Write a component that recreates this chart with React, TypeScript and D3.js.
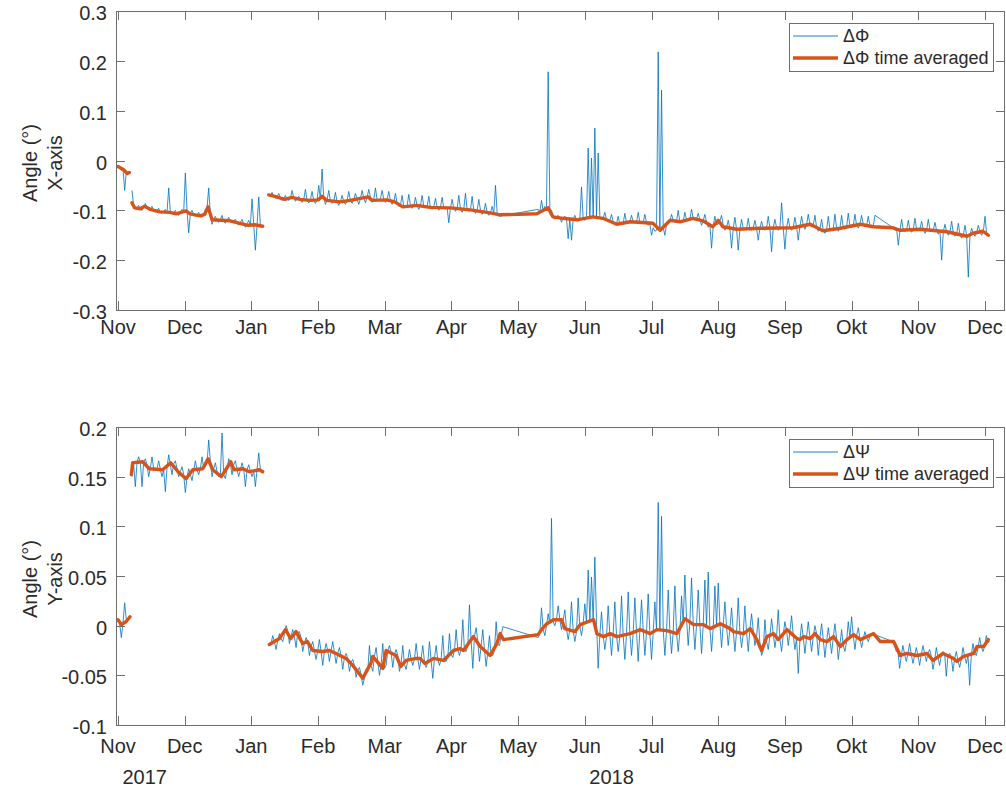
import { useEffect, useRef } from 'react';
import * as d3 from 'd3';

type Pair = [number, number];

// x values are months after 1 Nov 2017 (Nov 2017 = 0 ... Dec 2018 = 13)
const monthLabels = ['Nov', 'Dec', 'Jan', 'Feb', 'Mar', 'Apr', 'May', 'Jun', 'Jul', 'Aug', 'Sep', 'Okt', 'Nov', 'Dec'];
const yearLabels = ['2017', '2018'];
const yearLabelMonths = [0.4, 7.4];

const phiTicks = [-0.3, -0.2, -0.1, 0, 0.1, 0.2, 0.3];
const psiTicks = [-0.1, -0.05, 0, 0.05, 0.1, 0.15, 0.2];

// raw samples are spaced evenly inside each logging block
const SAMPLE_STEP = 0.025;

// ΔΦ raw
const phiRawStarts = [0, 0.21, 2.26, 6.3, 11.6];
const phiRaw1 = [-0.009, -0.014, -0.02, -0.018, -0.06, -0.022, -0.024];
const phiRaw2 = [
  -0.06, -0.092, -0.097, -0.095, -0.09, -0.098, -0.1, -0.093, -0.086, -0.095,
  -0.099, -0.097, -0.092, -0.101, -0.104, -0.1, -0.096, -0.104, -0.106, -0.102,
  -0.098, -0.105, -0.055, -0.103, -0.107, -0.104, -0.1, -0.108, -0.11, -0.105,
  -0.098, -0.104, -0.025, -0.1, -0.145, -0.106, -0.1, -0.108, -0.112, -0.109,
  -0.104, -0.111, -0.114, -0.108, -0.098, -0.095, -0.055, -0.11, -0.128, -0.118,
  -0.112, -0.121, -0.124, -0.119, -0.11, -0.122, -0.126, -0.12, -0.114, -0.123,
  -0.124, -0.121, -0.118, -0.126, -0.13, -0.124, -0.118, -0.128, -0.134, -0.127,
  -0.12, -0.13, -0.077, -0.128, -0.18, -0.13, -0.073, -0.131, -0.132,
];
const phiRaw3 = [
  -0.068, -0.071, -0.064, -0.072, -0.075, -0.073, -0.066, -0.075, -0.08, -0.076,
  -0.07, -0.078, -0.08, -0.076, -0.06, -0.075, -0.082, -0.077, -0.072, -0.078,
  -0.084, -0.079, -0.058, -0.08, -0.085, -0.079, -0.062, -0.081, -0.086, -0.079,
  -0.05, -0.078, -0.017, -0.074, -0.088, -0.08, -0.06, -0.081, -0.086, -0.082,
  -0.064, -0.083, -0.09, -0.083, -0.07, -0.082, -0.088, -0.081, -0.062, -0.08,
  -0.086, -0.079, -0.066, -0.078, -0.088, -0.077, -0.06, -0.075, -0.085, -0.074,
  -0.058, -0.074, -0.084, -0.079, -0.055, -0.078, -0.08, -0.077, -0.06, -0.078,
  -0.084, -0.079, -0.062, -0.081, -0.088, -0.083, -0.066, -0.086, -0.092, -0.09,
  -0.07, -0.092, -0.094, -0.091, -0.068, -0.09, -0.096, -0.091, -0.074, -0.09,
  -0.098, -0.091, -0.07, -0.092, -0.095, -0.093, -0.072, -0.094, -0.098, -0.093,
  -0.076, -0.094, -0.1, -0.094, -0.074, -0.095, -0.098, -0.094, -0.125, -0.095,
  -0.078, -0.096, -0.102, -0.096, -0.07, -0.097, -0.104, -0.097, -0.066, -0.098,
  -0.102, -0.099, -0.072, -0.1, -0.106, -0.101, -0.078, -0.1, -0.108, -0.102,
  -0.086, -0.104, -0.11, -0.105, -0.092, -0.106, -0.05, -0.105, -0.112,
];
const phiRaw4 = [
  -0.098, -0.104, -0.08, -0.1, -0.092, -0.097, 0.178, -0.096, -0.1, -0.11,
  -0.118, -0.113, -0.11, -0.115, -0.124, -0.116, -0.112, -0.117, -0.157, -0.118,
  -0.16, -0.118, -0.11, -0.119, -0.122, -0.118, -0.053, -0.117, -0.12, -0.116,
  0.025, -0.115, 0.005, -0.114, 0.065, -0.113, 0.015, -0.114, -0.118, -0.116,
  -0.104, -0.118, -0.122, -0.121, -0.108, -0.124, -0.13, -0.127, -0.112, -0.128,
  -0.128, -0.126, -0.106, -0.125, -0.126, -0.123, -0.11, -0.123, -0.124, -0.124,
  -0.104, -0.124, -0.126, -0.125, -0.108, -0.125, -0.13, -0.127, -0.15, -0.135,
  -0.142, -0.14, 0.218, -0.138, 0.141, -0.135, -0.15, -0.128, -0.12, -0.121,
  -0.108, -0.12, -0.124, -0.122, -0.1, -0.123, -0.12, -0.122, -0.104, -0.12,
  -0.118, -0.118, -0.098, -0.116, -0.12, -0.117, -0.106, -0.119, -0.13, -0.121,
  -0.108, -0.124, -0.134, -0.128, -0.176, -0.132, -0.112, -0.128, -0.128, -0.121,
  -0.11, -0.13, -0.14, -0.134, -0.12, -0.136, -0.176, -0.137, -0.114, -0.138,
  -0.18, -0.138, -0.118, -0.137, -0.138, -0.137, -0.116, -0.137, -0.14, -0.136,
  -0.12, -0.136, -0.16, -0.136, -0.122, -0.136, -0.14, -0.136, -0.112, -0.136,
  -0.183, -0.135, -0.118, -0.135, -0.14, -0.135, -0.085, -0.135, -0.178, -0.135,
  -0.116, -0.135, -0.14, -0.134, -0.114, -0.133, -0.16, -0.132, -0.112, -0.13,
  -0.138, -0.129, -0.108, -0.128, -0.134, -0.13, -0.11, -0.134, -0.142, -0.137,
  -0.118, -0.14, -0.146, -0.14, -0.112, -0.138, -0.14, -0.137, -0.108, -0.136,
  -0.142, -0.136, -0.11, -0.135, -0.138, -0.133, -0.106, -0.132, -0.134, -0.131,
  -0.108, -0.13, -0.136, -0.128, -0.11, -0.129, -0.132, -0.13, -0.112, -0.131,
  -0.13, -0.132, -0.11,
];
const phiRaw5 = [
  -0.133, -0.136, -0.14, -0.138, -0.17, -0.14, -0.118, -0.14, -0.142, -0.139,
  -0.12, -0.139, -0.144, -0.138, -0.116, -0.138, -0.14, -0.138, -0.122, -0.138,
  -0.146, -0.139, -0.118, -0.14, -0.14, -0.14, -0.124, -0.141, -0.148, -0.142,
  -0.2, -0.143, -0.128, -0.143, -0.15, -0.144, -0.122, -0.146, -0.152, -0.148,
  -0.126, -0.149, -0.156, -0.15, -0.13, -0.151, -0.234, -0.15, -0.136, -0.147,
  -0.152, -0.145, -0.13, -0.143, -0.15, -0.143, -0.112, -0.147, -0.148,
];
const phiRawLines = [[0], [1], [2, 3, 4]];

// ΔΦ time averaged
const phiAvg1: Pair[] = [[0, -0.012], [0.08, -0.018], [0.14, -0.026], [0.17, -0.024]];
const phiAvg2: Pair[] = [
  [0.21, -0.085], [0.25, -0.095], [0.33, -0.097], [0.4, -0.092], [0.48, -0.098], [0.63, -0.103],
  [0.78, -0.104], [0.87, -0.107], [1.02, -0.101], [1.08, -0.107], [1.23, -0.111], [1.3, -0.108],
  [1.35, -0.093], [1.41, -0.119], [1.53, -0.12], [1.68, -0.121], [1.83, -0.126], [1.95, -0.13],
  [2.05, -0.129], [2.17, -0.132],
];
const phiAvg3: Pair[] = [
  [2.26, -0.069], [2.35, -0.072], [2.5, -0.078], [2.61, -0.074], [2.73, -0.078], [2.88, -0.08],
  [3.0, -0.079], [3.06, -0.072], [3.13, -0.08], [3.33, -0.083], [3.48, -0.08], [3.75, -0.073],
  [3.81, -0.08], [4.03, -0.079], [4.15, -0.083], [4.27, -0.093], [4.48, -0.09], [4.68, -0.094],
  [4.98, -0.095], [5.28, -0.099], [5.58, -0.105], [5.73, -0.109], [6.28, -0.107], [6.45, -0.095],
  [6.52, -0.113], [6.67, -0.116], [6.88, -0.119], [7.12, -0.113], [7.27, -0.116], [7.48, -0.128],
  [7.68, -0.123], [8.02, -0.126], [8.13, -0.14], [8.28, -0.12], [8.43, -0.123], [8.62, -0.116],
  [8.77, -0.121], [8.92, -0.133], [9.0, -0.12], [9.07, -0.133], [9.28, -0.138], [9.63, -0.136],
  [10.12, -0.135], [10.38, -0.128], [10.57, -0.141], [10.83, -0.136], [11.13, -0.128], [11.32, -0.133],
  [11.62, -0.135], [11.73, -0.14], [12.03, -0.138], [12.43, -0.143], [12.73, -0.152], [12.82, -0.146],
  [12.97, -0.142], [13.05, -0.15],
];

// ΔΨ raw
const psiRawStarts = [0, 0.21, 2.27, 6.3, 11.62];
const psiRaw1 = [0.004, 0.002, -0.012, 0.003, 0.023, 0.006, 0.008];
const psiRaw2 = [
  0.15, 0.162, 0.14, 0.164, 0.17, 0.165, 0.14, 0.165, 0.168, 0.162,
  0.15, 0.159, 0.17, 0.158, 0.156, 0.158, 0.166, 0.157, 0.15, 0.157,
  0.135, 0.159, 0.172, 0.162, 0.152, 0.163, 0.166, 0.158, 0.15, 0.155,
  0.16, 0.152, 0.134, 0.149, 0.158, 0.152, 0.146, 0.156, 0.166, 0.157,
  0.152, 0.158, 0.17, 0.158, 0.16, 0.163, 0.187, 0.166, 0.15, 0.158,
  0.164, 0.155, 0.15, 0.152, 0.194, 0.152, 0.148, 0.158, 0.168, 0.163,
  0.152, 0.162, 0.166, 0.157, 0.15, 0.157, 0.164, 0.158, 0.14, 0.157,
  0.162, 0.155, 0.15, 0.156, 0.14, 0.157, 0.174, 0.157, 0.154,
];
const psiRaw3 = [
  -0.02, -0.018, -0.01, -0.016, -0.024, -0.015, -0.008, -0.013, -0.016, -0.009,
  0.0, -0.005, -0.018, -0.011, -0.004, -0.011, -0.022, -0.007, -0.006, -0.012,
  -0.026, -0.018, -0.012, -0.016, -0.03, -0.021, -0.016, -0.025, -0.034, -0.025,
  -0.014, -0.026, -0.04, -0.026, -0.018, -0.025, -0.036, -0.025, -0.016, -0.027,
  -0.038, -0.028, -0.022, -0.03, -0.044, -0.032, -0.028, -0.033, -0.046, -0.037,
  -0.034, -0.04, -0.052, -0.045, -0.042, -0.049, -0.06, -0.053, -0.044, -0.046,
  -0.02, -0.04, -0.046, -0.031, -0.022, -0.036, -0.05, -0.04, -0.018, -0.043,
  -0.04, -0.025, -0.02, -0.027, -0.042, -0.029, -0.024, -0.03, -0.046, -0.038,
  -0.02, -0.039, -0.044, -0.035, -0.024, -0.034, -0.04, -0.034, -0.018, -0.033,
  -0.044, -0.033, -0.02, -0.036, -0.042, -0.037, -0.016, -0.035, -0.053, -0.033,
  -0.02, -0.034, -0.04, -0.034, -0.01, -0.035, -0.036, -0.032, -0.008, -0.029,
  -0.032, -0.025, -0.004, -0.024, -0.03, -0.023, 0.006, -0.025, -0.026, -0.02,
  0.021, -0.015, -0.043, -0.011, -0.002, -0.016, -0.036, -0.02, -0.004, -0.024,
  -0.041, -0.027, -0.01, -0.03, -0.03, -0.025, 0.004, -0.019, -0.02, -0.01,
  -0.001,
];
const psiRaw4 = [
  -0.012, -0.008, 0.018, -0.004, -0.01, 0.0, 0.012, 0.002, 0.108, 0.004,
  0.0, 0.006, 0.02, 0.006, -0.004, 0.005, 0.016, -0.003, -0.014, -0.004,
  0.024, -0.005, -0.016, -0.006, 0.028, -0.001, -0.01, 0.002, 0.022, 0.003,
  0.056, 0.004, 0.049, 0.005, 0.069, 0.004, -0.043, -0.009, 0.014, -0.01,
  -0.024, -0.011, 0.02, -0.009, -0.03, -0.008, 0.024, -0.01, -0.026, -0.011,
  0.03, -0.01, -0.034, -0.009, 0.034, -0.008, -0.03, -0.007, 0.028, -0.006,
  -0.036, -0.005, 0.026, -0.004, -0.03, -0.006, 0.032, -0.008, -0.034, -0.007,
  0.024, -0.005, 0.124, -0.004, 0.11, -0.004, -0.03, -0.005, 0.036, -0.005,
  -0.028, -0.006, 0.04, -0.007, -0.026, -0.006, 0.03, 0.002, 0.051, 0.007,
  -0.02, 0.004, 0.048, 0.002, -0.024, 0.001, 0.036, 0.001, -0.028, 0.001,
  0.046, 0.0, 0.054, -0.002, -0.026, -0.002, 0.04, 0.0, 0.043, 0.002,
  -0.022, 0.001, 0.024, -0.001, -0.02, -0.003, 0.018, -0.005, -0.026, -0.006,
  0.028, -0.007, -0.022, -0.008, 0.02, -0.007, -0.026, -0.004, 0.012, -0.005,
  -0.02, -0.011, 0.008, -0.018, -0.03, -0.025, 0.006, -0.016, -0.024, -0.01,
  0.007, -0.008, -0.022, -0.011, 0.016, -0.014, -0.026, -0.009, 0.004, -0.005,
  -0.02, -0.006, 0.01, -0.01, -0.024, -0.013, -0.048, -0.014, 0.002, -0.012,
  -0.028, -0.011, 0.004, -0.012, -0.026, -0.011, 0.0, -0.008, -0.03, -0.012,
  0.002, -0.014, -0.032, -0.016, -0.002, -0.015, -0.028, -0.012, 0.002, -0.013,
  -0.034, -0.019, -0.004, -0.02, -0.026, -0.016, 0.004, -0.012, 0.009, -0.01,
  -0.024, -0.01, -0.002, -0.013, -0.022, -0.013, -0.006, -0.012, -0.016, -0.01,
  -0.008,
];
const psiRaw5 = [
  -0.016, -0.02, -0.026, -0.026, -0.043, -0.03, -0.02, -0.029, -0.036, -0.028,
  -0.018, -0.029, -0.038, -0.03, -0.022, -0.03, -0.04, -0.029, -0.02, -0.028,
  -0.036, -0.028, -0.024, -0.031, -0.044, -0.035, -0.022, -0.032, -0.04, -0.029,
  -0.026, -0.028, -0.051, -0.03, -0.028, -0.032, -0.046, -0.033, -0.026, -0.035,
  -0.042, -0.034, -0.022, -0.031, -0.038, -0.03, -0.06, -0.029, -0.018, -0.028,
  -0.03, -0.023, -0.012, -0.021, -0.026, -0.021, -0.01, -0.017, -0.016,
];
const psiRawLines = [[0], [1], [2, 3, 4]];

// ΔΨ time averaged
const psiAvg1: Pair[] = [[0, 0.006], [0.05, 0.001], [0.12, 0.004], [0.18, 0.009]];
const psiAvg2: Pair[] = [
  [0.2, 0.152], [0.22, 0.164], [0.37, 0.165], [0.47, 0.158], [0.67, 0.157], [0.79, 0.164],
  [0.9, 0.155], [1.02, 0.148], [1.12, 0.157], [1.27, 0.158], [1.35, 0.168], [1.42, 0.157],
  [1.55, 0.15], [1.69, 0.165], [1.74, 0.157], [1.87, 0.158], [1.97, 0.155], [2.12, 0.157],
  [2.17, 0.155],
];
const psiAvg3: Pair[] = [
  [2.27, -0.019], [2.42, -0.013], [2.51, -0.004], [2.59, -0.013], [2.67, -0.006], [2.77, -0.018],
  [2.84, -0.016], [2.92, -0.025], [3.07, -0.026], [3.17, -0.025], [3.27, -0.028], [3.42, -0.033],
  [3.52, -0.04], [3.67, -0.053], [3.79, -0.038], [3.82, -0.031], [3.97, -0.043], [4.02, -0.025],
  [4.17, -0.03], [4.24, -0.041], [4.32, -0.035], [4.47, -0.033], [4.53, -0.033], [4.6, -0.038],
  [4.73, -0.033], [4.88, -0.035], [5.03, -0.025], [5.13, -0.023], [5.18, -0.025], [5.33, -0.011],
  [5.43, -0.021], [5.58, -0.03], [5.68, -0.018], [5.73, -0.008], [5.78, -0.014], [6.3, -0.009],
  [6.35, -0.004], [6.43, 0.002], [6.53, 0.006], [6.65, 0.006], [6.7, -0.003], [6.85, -0.006],
  [6.93, 0.001], [7.13, 0.006], [7.18, -0.008], [7.28, -0.011], [7.38, -0.008], [7.48, -0.011],
  [7.68, -0.008], [7.83, -0.004], [7.98, -0.008], [8.08, -0.004], [8.23, -0.005], [8.38, -0.008],
  [8.5, 0.007], [8.63, 0.001], [8.78, 0.001], [8.88, -0.003], [9.03, 0.002], [9.18, -0.003],
  [9.23, -0.006], [9.38, -0.008], [9.48, -0.003], [9.58, -0.014], [9.65, -0.025], [9.73, -0.011],
  [9.83, -0.008], [9.9, -0.014], [10.03, -0.004], [10.18, -0.013], [10.23, -0.014], [10.28, -0.011],
  [10.38, -0.013], [10.45, -0.008], [10.53, -0.014], [10.63, -0.016], [10.73, -0.011], [10.83, -0.021],
  [10.93, -0.014], [11.03, -0.009], [11.13, -0.014], [11.23, -0.011], [11.33, -0.008], [11.43, -0.016],
  [11.63, -0.016], [11.73, -0.03], [11.83, -0.028], [11.98, -0.03], [12.13, -0.028], [12.22, -0.035],
  [12.37, -0.028], [12.53, -0.033], [12.58, -0.036], [12.68, -0.031], [12.83, -0.028], [12.88, -0.021],
  [12.98, -0.021], [13.05, -0.014],
];

const BLUE = '#0072BD';
const ORANGE = '#D95319';
const AXIS = '#6e6e6e';
const TEXT = '#2b2b2b';
const FONT = "'Liberation Sans', Arial, Helvetica, sans-serif";

const LEFT = 116;
const RIGHT = 1005;

function rawPoints(starts: number[], blocks: number[][], group: number[]): Pair[] {
  return group.flatMap((b) => blocks[b].map((v, i) => [starts[b] + i * SAMPLE_STEP, v] as Pair));
}

interface PanelConfig {
  id: string;
  top: number;
  bottom: number;
  domain: [number, number];
  ticks: number[];
  raw: Pair[][];
  avg: Pair[][];
  axisName: string;
  symbol: string;
  labelBaseline: number;
  labelCenter: number;
}

function drawPanel(svg: d3.Selection<SVGSVGElement, unknown, null, undefined>, cfg: PanelConfig) {
  const x = d3.scaleLinear().domain([-0.03, 13.3]).range([LEFT, RIGHT]);
  const y = d3.scaleLinear().domain(cfg.domain).range([cfg.bottom, cfg.top]);
  const g = svg.append('g').attr('font-family', FONT).attr('font-size', 20).attr('fill', TEXT);

  g.append('clipPath')
    .attr('id', `clip-${cfg.id}`)
    .append('rect')
    .attr('x', LEFT).attr('y', cfg.top)
    .attr('width', RIGHT - LEFT).attr('height', cfg.bottom - cfg.top);

  const plot = g.append('g').attr('clip-path', `url(#clip-${cfg.id})`);
  const line = d3.line<Pair>().x((d) => x(d[0])).y((d) => y(d[1]));

  cfg.raw.forEach((pts) => {
    plot.append('path')
      .attr('d', line(pts))
      .attr('fill', 'none')
      .attr('stroke', BLUE)
      .attr('stroke-width', 0.8)
      .attr('stroke-linejoin', 'round');
  });

  cfg.avg.forEach((pts) => {
    plot.append('path')
      .attr('d', line(pts))
      .attr('fill', 'none')
      .attr('stroke', ORANGE)
      .attr('stroke-width', 3.4)
      .attr('stroke-linejoin', 'round')
      .attr('stroke-linecap', 'round');
  });

  // box
  g.append('rect')
    .attr('x', LEFT + 0.5).attr('y', cfg.top + 0.5)
    .attr('width', RIGHT - LEFT - 1).attr('height', cfg.bottom - cfg.top)
    .attr('fill', 'none').attr('stroke', AXIS).attr('stroke-width', 1);

  const tickLen = 9;

  // x ticks, both sides
  monthLabels.forEach((m, i) => {
    const px = Math.round(x(i)) + 0.5;
    g.append('line')
      .attr('x1', px).attr('x2', px)
      .attr('y1', cfg.bottom).attr('y2', cfg.bottom - tickLen)
      .attr('stroke', AXIS);
    g.append('line')
      .attr('x1', px).attr('x2', px)
      .attr('y1', cfg.top).attr('y2', cfg.top + tickLen)
      .attr('stroke', AXIS);
    g.append('text')
      .attr('x', x(i))
      .attr('y', cfg.labelBaseline)
      .attr('text-anchor', 'middle')
      .text(m);
  });

  // y ticks, both sides
  cfg.ticks.forEach((v) => {
    const py = Math.round(y(v)) + 0.5;
    g.append('line')
      .attr('x1', LEFT).attr('x2', LEFT + tickLen)
      .attr('y1', py).attr('y2', py)
      .attr('stroke', AXIS);
    g.append('line')
      .attr('x1', RIGHT).attr('x2', RIGHT - tickLen)
      .attr('y1', py).attr('y2', py)
      .attr('stroke', AXIS);
    g.append('text')
      .attr('x', 107)
      .attr('y', y(v) + 9)
      .attr('text-anchor', 'end')
      .text(String(v));
  });

  // y label, two lines
  const lab = g.append('text')
    .attr('transform', `translate(0,${cfg.labelCenter}) rotate(-90)`)
    .attr('text-anchor', 'middle');
  lab.append('tspan').attr('x', 0).attr('y', 37).text('Angle (°)');
  lab.append('tspan').attr('x', 0).attr('y', 62).text(cfg.axisName);

  // legend
  const lg = g.append('g').attr('font-size', 18);
  lg.append('rect')
    .attr('x', 789.5).attr('y', cfg.top + 12.5)
    .attr('width', 204).attr('height', 48)
    .attr('fill', '#fff').attr('stroke', AXIS);
  lg.append('line')
    .attr('x1', 793).attr('x2', 838)
    .attr('y1', cfg.top + 25).attr('y2', cfg.top + 25)
    .attr('stroke', BLUE).attr('stroke-width', 0.9);
  lg.append('line')
    .attr('x1', 793).attr('x2', 838)
    .attr('y1', cfg.top + 47).attr('y2', cfg.top + 47)
    .attr('stroke', ORANGE).attr('stroke-width', 3.4);
  lg.append('text').attr('x', 843).attr('y', cfg.top + 31).text(cfg.symbol);
  lg.append('text').attr('x', 843).attr('y', cfg.top + 53).text(`${cfg.symbol} time averaged`);

  return x;
}

export default function App() {
  const svgRef = useRef<SVGSVGElement>(null);

  useEffect(() => {
    if (!svgRef.current) return;
    const svg = d3.select(svgRef.current);
    svg.selectAll('*').remove();

    const phiBlocks = [phiRaw1, phiRaw2, phiRaw3, phiRaw4, phiRaw5];
    const psiBlocks = [psiRaw1, psiRaw2, psiRaw3, psiRaw4, psiRaw5];

    drawPanel(svg, {
      id: 'phi',
      top: 11,
      bottom: 310,
      domain: [-0.3, 0.3],
      ticks: phiTicks,
      raw: phiRawLines.map((grp) => rawPoints(phiRawStarts, phiBlocks, grp)),
      avg: [phiAvg1, phiAvg2, phiAvg3],
      axisName: 'X-axis',
      symbol: 'ΔΦ',
      labelBaseline: 334,
      labelCenter: 163,
    });

    const x = drawPanel(svg, {
      id: 'psi',
      top: 427,
      bottom: 725,
      domain: [-0.1, 0.2],
      ticks: psiTicks,
      raw: psiRawLines.map((grp) => rawPoints(psiRawStarts, psiBlocks, grp)),
      avg: [psiAvg1, psiAvg2, psiAvg3],
      axisName: 'Y-axis',
      symbol: 'ΔΨ',
      labelBaseline: 753,
      labelCenter: 579,
    });

    // year labels under the lower axis
    yearLabels.forEach((yr, i) => {
      svg.append('text')
        .attr('x', x(yearLabelMonths[i]))
        .attr('y', 784)
        .attr('text-anchor', 'middle')
        .attr('font-family', FONT)
        .attr('font-size', 20)
        .attr('fill', TEXT)
        .text(yr);
    });
  }, []);

  return (
    <>
      <style>{'body{margin:0;background:#fff}'}</style>
      <svg ref={svgRef} width={1006} height={790} style={{ display: 'block' }} />
    </>
  );
}
